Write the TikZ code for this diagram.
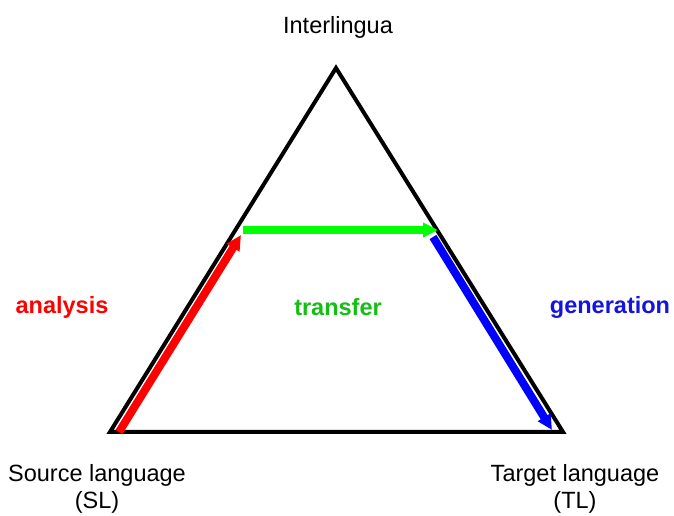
\documentclass[tikz,border=0pt]{standalone}
\usepackage{fontspec}
\setmainfont{Liberation Sans}
\usetikzlibrary{arrows.meta}
\begin{document}
\begin{tikzpicture}[x=1pt,y=1pt,
  lbl/.style={font=\fontsize{23.5}{27}\selectfont, align=center, inner sep=0pt},
  blbl/.style={font=\fontsize{23.5}{27}\selectfont\bfseries, inner sep=0pt},
  flow/.style={line width=8pt, -{Triangle[length=15pt,width=14pt]}}]
\useasboundingbox (0,0) rectangle (674,516);
\coordinate (I) at (336,448);
\coordinate (S) at (110,84);
\coordinate (T) at (563,84);
\draw[line width=4pt, line join=miter] (I) -- (T) -- (S) -- cycle;
\coordinate (r1) at (119,84);
\coordinate (r2) at (241,281);
\coordinate (g1) at (243,286);
\coordinate (g2) at (438,286);
\coordinate (b1) at (433,279);
\coordinate (b2) at (552,86);
\draw[flow, red] (r1) -- (r2);
\draw[flow, green] (g1) -- (g2);
\draw[flow, blue] (b1) -- (b2);
\node[lbl] (il) at (338,489) {Interlingua};
\node[lbl] (sl) at (97,27) {Source language\\(SL)};
\node[lbl] (tl) at (575,27) {Target language\\(TL)};
\node[blbl, text=red] (an) at (62,209) {analysis};
\node[blbl, text={rgb,255:red,20;green,190;blue,20}] (tr) at (338,209) {transfer};
\node[blbl, text={rgb,255:red,20;green,20;blue,220}] (ge) at (610,209) {generation};
\end{tikzpicture}
\end{document}
